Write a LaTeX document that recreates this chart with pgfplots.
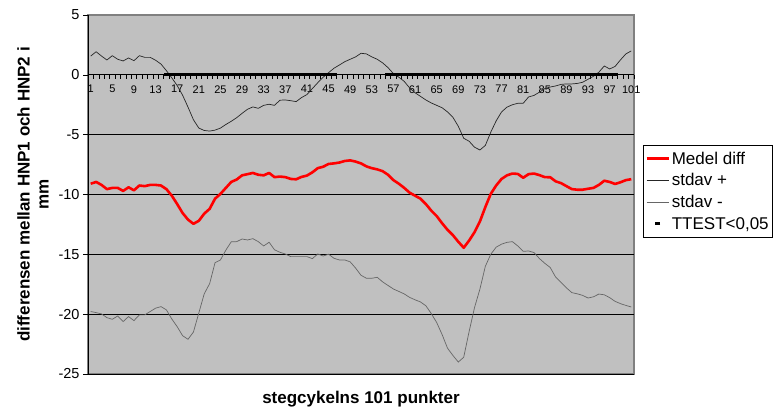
\documentclass[border=0pt]{standalone}
\usepackage{fontspec}
\setmainfont{Liberation Sans}
\usepackage{pgfplots}
\usepackage{pgfplotstable}
\pgfplotsset{compat=1.18}
\definecolor{bg}{HTML}{C0C0C0}
\definecolor{framegray}{HTML}{808080}
\pgfplotstableread{
x mean up low
1 -9.10 1.57 -19.78
2 -8.95 1.93 -19.87
3 -9.20 1.57 -19.98
4 -9.55 1.24 -20.29
5 -9.45 1.60 -20.43
6 -9.45 1.30 -20.15
7 -9.70 1.16 -20.62
8 -9.40 1.41 -20.20
9 -9.65 1.18 -20.54
10 -9.25 1.60 -20.06
11 -9.30 1.46 -20.06
12 -9.20 1.46 -19.78
13 -9.20 1.22 -19.50
14 -9.25 0.90 -19.37
15 -9.55 0.35 -19.64
16 -10.10 -0.25 -20.40
17 -10.80 -0.90 -21.05
18 -11.55 -1.70 -21.80
19 -12.10 -2.70 -22.10
20 -12.45 -3.75 -21.50
21 -12.20 -4.45 -19.90
22 -11.60 -4.65 -18.30
23 -11.20 -4.70 -17.45
24 -10.35 -4.62 -15.70
25 -9.95 -4.45 -15.47
26 -9.45 -4.15 -14.65
27 -8.95 -3.88 -13.95
28 -8.75 -3.58 -13.94
29 -8.40 -3.22 -13.72
30 -8.30 -2.88 -13.80
31 -8.20 -2.68 -13.69
32 -8.35 -2.80 -13.94
33 -8.40 -2.55 -14.30
34 -8.20 -2.46 -13.99
35 -8.55 -2.55 -14.62
36 -8.50 -2.12 -14.83
37 -8.55 -2.10 -14.97
38 -8.70 -2.16 -15.19
39 -8.73 -2.24 -15.19
40 -8.53 -1.90 -15.19
41 -8.42 -1.65 -15.19
42 -8.15 -1.15 -15.36
43 -7.80 -0.66 -14.97
44 -7.68 -0.20 -15.14
45 -7.45 0.18 -14.99
46 -7.40 0.55 -15.33
47 -7.33 0.82 -15.47
48 -7.20 1.10 -15.47
49 -7.15 1.30 -15.63
50 -7.25 1.50 -16.15
51 -7.40 1.80 -16.75
52 -7.65 1.75 -17.00
53 -7.80 1.50 -17.00
54 -7.90 1.30 -16.92
55 -8.05 1.00 -17.30
56 -8.35 0.60 -17.60
57 -8.80 0.10 -17.90
58 -9.10 -0.20 -18.10
59 -9.45 -0.55 -18.31
60 -9.85 -1.10 -18.60
61 -10.10 -1.50 -18.80
62 -10.35 -1.80 -18.98
63 -10.80 -2.10 -19.30
64 -11.35 -2.35 -19.95
65 -11.80 -2.55 -20.70
66 -12.40 -2.75 -21.70
67 -12.95 -3.10 -22.84
68 -13.40 -3.55 -23.45
69 -13.95 -4.30 -24.00
70 -14.45 -5.30 -23.60
71 -13.85 -5.55 -21.45
72 -13.15 -6.05 -19.45
73 -12.25 -6.28 -17.90
74 -11.05 -5.90 -16.00
75 -9.95 -4.80 -15.00
76 -9.25 -3.85 -14.40
77 -8.70 -3.10 -14.15
78 -8.40 -2.70 -14.00
79 -8.25 -2.50 -13.94
80 -8.28 -2.38 -14.30
81 -8.60 -2.38 -14.75
82 -8.30 -1.85 -14.72
83 -8.25 -1.72 -14.85
84 -8.38 -1.45 -15.35
85 -8.55 -1.15 -15.75
86 -8.56 -1.02 -16.10
87 -8.90 -0.93 -16.90
88 -9.05 -0.80 -17.35
89 -9.30 -0.76 -17.80
90 -9.55 -0.76 -18.20
91 -9.60 -0.72 -18.30
92 -9.60 -0.62 -18.43
93 -9.52 -0.37 -18.65
94 -9.45 -0.12 -18.55
95 -9.20 0.22 -18.32
96 -8.85 0.74 -18.38
97 -8.95 0.49 -18.62
98 -9.12 0.70 -18.93
99 -8.98 1.25 -19.12
100 -8.80 1.75 -19.27
101 -8.72 2.00 -19.40
}\datatable
\pgfplotstableread{
x t
15 0
16 0
17 0
18 0
19 0
20 0
21 0
22 0
23 0
24 0
25 0
26 0
27 0
28 0
29 0
30 0
31 0
32 0
33 0
34 0
35 0
36 0
37 0
38 0
39 0
40 0
41 0
42 0
43 0
44 0
45 0
46 0
56 0
57 0
58 0
59 0
60 0
61 0
62 0
63 0
64 0
65 0
66 0
67 0
68 0
69 0
70 0
71 0
72 0
73 0
74 0
75 0
76 0
77 0
78 0
79 0
80 0
81 0
82 0
83 0
84 0
85 0
86 0
87 0
88 0
89 0
90 0
91 0
92 0
93 0
94 0
95 0
96 0
97 0
98 0
}\ttesttable
\begin{document}
\begin{tikzpicture}
\path[use as bounding box] (0,0) rectangle (777pt,414pt);
\begin{axis}[
  scale only axis, width=546pt, height=359pt,
  at={(88pt,40pt)}, anchor=south west,
  xmin=0.5, xmax=101.5, ymin=-25, ymax=5,
  axis x line*=bottom, axis y line*=left,
  axis x line shift=-299.17pt,
  axis line style={-, black, line width=0.8pt},
  axis background/.style={fill=bg, draw=framegray, line width=1.2pt},
  tick align=outside,
  xtick={1,5,...,101},
  minor xtick={0.5,1.5,...,101.5},
  major x tick style={draw=none},
  minor tick length=4pt, major tick length=5pt,
  tick style={black, line width=0.6pt},
  ytick={-25,-20,...,5},
  extra y ticks={-25,-20,-15,-10,-5,0},
  extra y tick labels={},
  extra y tick style={grid=major, major tick length=0pt},
  grid style={black, line width=0.8pt},
  /pgf/number format/assume math mode=true,
  xticklabel style={font=\fontsize{11}{13}\selectfont},
  xticklabel shift=2pt,
  yticklabel style={font=\fontsize{14.5}{16}\selectfont},
  xlabel={stegcykelns 101 punkter},
  ylabel={differensen mellan HNP1 och HNP2 i\\mm},
  every axis x label/.style={at={(axis description cs:0.5,-0.0696)}, anchor=center, font=\bfseries\fontsize{17}{20}\selectfont},
  every axis y label/.style={at={(axis description cs:-0.1007,0.5)}, anchor=center, rotate=90, align=center, font=\bfseries\fontsize{17}{19}\selectfont},
  legend style={at={(axis description cs:1.0165,0.6379)}, anchor=north west, draw=black, fill=white, font=\fontsize{17}{20}\selectfont, inner xsep=2pt, inner ysep=4.5pt, row sep=4pt},
  legend cell align=left,
  legend image code/.code={\draw[mark repeat=2,mark phase=2,#1] plot coordinates {(0pt,0pt) (11pt,0pt) (22pt,0pt)};},
]
\addplot[red, line width=2.6pt, line join=round] table[x=x,y=mean]{\datatable};
\addplot[black!85, line width=0.7pt] table[x=x,y=up]{\datatable};
\addplot[black!60, line width=0.7pt] table[x=x,y=low]{\datatable};
\addplot[black, only marks, mark=-, mark size=2.7pt, mark options={line width=3.2pt, black}] table[x=x,y=t]{\ttesttable};
\legend{Medel diff,stdav +,stdav -,{TTEST<0,05}}
\end{axis}
\end{tikzpicture}
\end{document}
